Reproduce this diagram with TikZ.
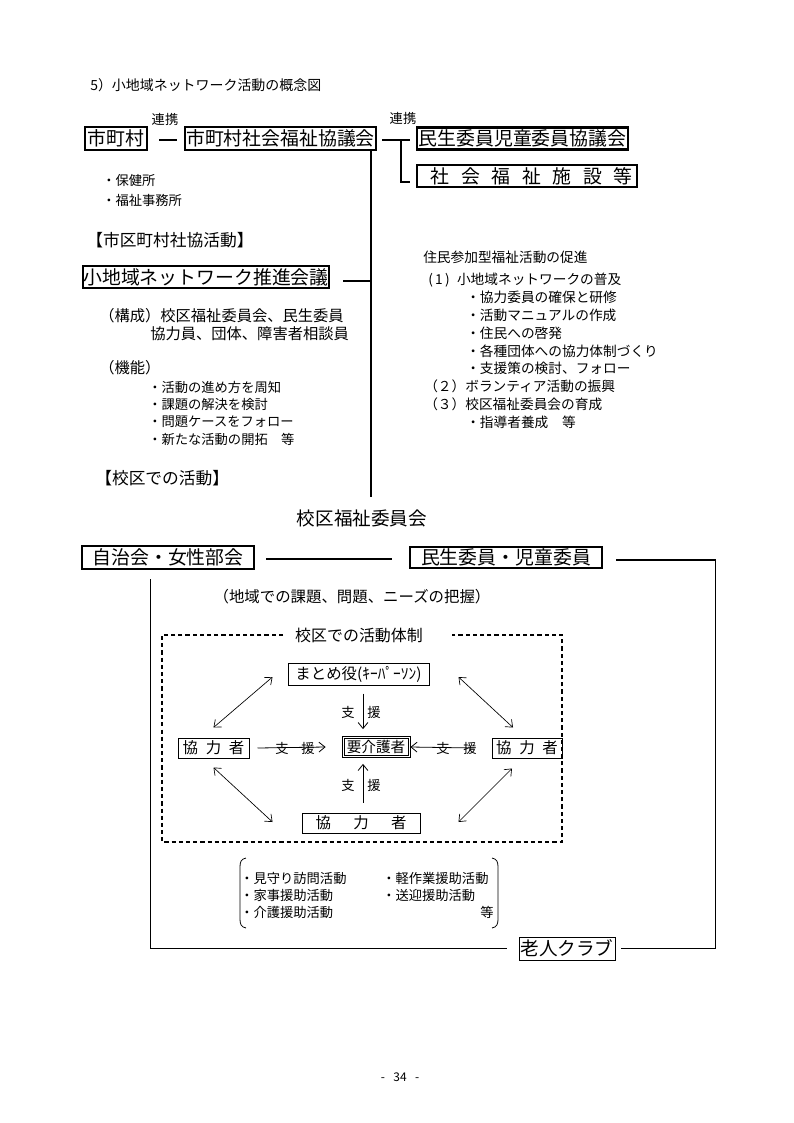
\documentclass[tikz,border=0pt]{standalone}
\usepackage{fontspec}
\setmainfont{Noto Sans CJK JP}
\usetikzlibrary{calc,arrows.meta}
\def\PX{0.2645mm}
\begin{document}
\begin{tikzpicture}[x=0.2645mm,y=-0.2645mm,
  bigbox/.style={draw, line width=1.6pt, inner sep=0pt, font=\fontsize{14.2}{16}\selectfont},
  thinbox/.style={draw, line width=0.75pt, inner sep=0pt, font=\fontsize{11.6}{14}\selectfont},
  sm/.style={inner sep=0pt, anchor=west, font=\fontsize{10}{12}\selectfont},
  smr/.style={inner sep=0pt, anchor=west, font=\fontsize{10.3}{12}\selectfont},
  mid/.style={inner sep=0pt, anchor=west, font=\fontsize{11.5}{13}\selectfont},
  head/.style={inner sep=0pt, anchor=west, font=\fontsize{12.6}{14}\selectfont},
  lbl/.style={inner sep=0pt, font=\fontsize{10}{11}\selectfont},
  conn/.style={line width=0.8pt},
  arr/.style={line width=0.6pt, -{Straight Barb[length=1.6mm,width=2.6mm]}},
  darr/.style={line width=0.5pt, {Straight Barb[length=1.6mm,width=2.6mm]}-{Straight Barb[length=1.6mm,width=2.6mm]}},
  dashbox/.style={line width=1.5pt, dash pattern=on 1.1mm off 0.8mm}
]
\fill[white] (0,0) rectangle (794,1123);
\useasboundingbox (0,0) rectangle (794,1123);

% title
\node[sm, font=\fontsize{10.5}{12}\selectfont] (title) at (90,85) {5）小地域ネットワーク活動の概念図};

% top boxes
\node[lbl] (renkei1) at (165,119) {連携};
\node[lbl] (renkei2) at (403,118) {連携};
\node[bigbox, minimum width=62*\PX, minimum height=23*\PX] (shi) at (116,138.5) {市町村};
\node[bigbox, minimum width=191*\PX, minimum height=23*\PX] (shakyo) at (280.5,138.5) {市町村社会福祉協議会};
\node[bigbox, minimum width=211*\PX, minimum height=22*\PX] (minji) at (522.5,138.5) {民生委員児童委員協議会};
\node[bigbox, minimum width=220*\PX, minimum height=22*\PX] (shisetsu) at (527,176)
  {\hspace{0.5em}社\hspace{0.62em}会\hspace{0.62em}福\hspace{0.62em}祉\hspace{0.62em}施\hspace{0.62em}設\hspace{0.62em}等};

\draw[conn] ($(shi.east)+(11,1.5)$) -- ($(shakyo.west)+(-7,1.5)$);
\draw[conn] ($(shakyo.east)+(5,1.5)$) -- ($(minji.west)+(-6,1.5)$);
\coordinate (rj) at (401,140);
\draw[conn] (rj) |- ($(shisetsu.west)+(-6,6)$);

% main vertical
\coordinate (vb) at (371,497);
\draw[conn] (shakyo.south -| vb) -- (vb);

\node[sm] (hoken) at (102,180) {・保健所};
\node[sm] (fukushi) at (102,200) {・福祉事務所};
\node[head] (shikucho) at (86,240) {【市区町村社協活動】};

\node[bigbox, minimum width=246*\PX, minimum height=22*\PX] (suishin) at (206,277) {小地域ネットワーク推進会議};
\coordinate (sj) at (371,281);
\draw[conn] ($(suishin.east)+(13,4)$) -- (sj);

\node[mid] (kousei1) at (99,316) {（構成）校区福祉委員会、民生委員};
\node[mid] (kousei2) at (150,334) {協力員、団体、障害者相談員};
\node[mid] (kinou) at (99,368) {（機能）};
\node[sm] (k1) at (148,387) {・活動の進め方を周知};
\node[sm] (k2) at (148,404) {・課題の解決を検討};
\node[sm] (k3) at (148,422) {・問題ケースをフォロー};
\node[sm] (k4) at (148,439) {・新たな活動の開拓\hspace{1em}等};

% right block
\node[smr] (r0) at (423,257) {住民参加型福祉活動の促進};
\node[smr] (r1) at (428,280) {\makebox[2.1em][l]{(\,1\,)}小地域ネットワークの普及};
\node[smr] (r2) at (466,297) {・協力委員の確保と研修};
\node[smr] (r3) at (466,315) {・活動マニュアルの作成};
\node[smr] (r4) at (466,333) {・住民への啓発};
\node[smr] (r5) at (466,351) {・各種団体への協力体制づくり};
\node[smr] (r6) at (466,368) {・支援策の検討、フォロー};
\node[smr] (r7) at (424,386) {（２）ボランティア活動の振興};
\node[smr] (r8) at (424,404) {（３）校区福祉委員会の育成};
\node[smr] (r9) at (466,422) {・指導者養成\hspace{1em}等};

\node[head] (kouku) at (95,478) {【校区での活動】};
\node[inner sep=0pt, font=\fontsize{14}{16}\selectfont] (kfi) at (362,518) {校区福祉委員会};

% second row
\node[bigbox, minimum width=172*\PX, minimum height=23*\PX] (jichi) at (168,557.5) {自治会・女性部会};
\node[bigbox, minimum width=192*\PX, minimum height=21*\PX] (minsei) at (506,557.5) {民生委員・児童委員};
\node[thinbox, font=\fontsize{14}{16}\selectfont, minimum width=96*\PX, minimum height=23*\PX] (rouj) at (567,948.5) {老人クラブ};

\draw[conn] ($(jichi.east)+(11,1.5)$) -- ($(minsei.west)+(-17,1.5)$);
\draw[conn] ($(minsei.east)+(13,2.5)$) -| ($(rouj.east)+(100,0)$) -- ($(rouj.east)+(5,0)$);
\draw[conn] ($(jichi.south west)+(70,9)$) |- ($(rouj.west)+(-12,0)$);

\node[inner sep=0pt, font=\fontsize{11.6}{14}\selectfont] (chiiki) at (352,597) {（地域での課題、問題、ニーズの把握）};

% dashed frame
\draw[dashbox] (283,635) -| (162,842) -| (562,635) -- (452,635);
\node[inner sep=0pt, font=\fontsize{12}{14}\selectfont] (taisei) at (359,635) {校区での活動体制};

\node[thinbox, minimum width=141*\PX, minimum height=22*\PX] (matome) at (358.5,674) {まとめ役(ｷｰﾊﾟｰｿﾝ)};
\node[thinbox, font=\fontsize{11}{13}\selectfont, line width=0.6pt, minimum width=68*\PX, minimum height=21*\PX] (youkai) at (376,747) {要介護者};
\draw[line width=0.6pt] ($(youkai.south west)+(2.5,-2.5)$) rectangle ($(youkai.north east)+(-2.5,2.5)$);
\node[thinbox, minimum width=71*\PX, minimum height=20*\PX] (kyouL) at (213.5,748) {協\hspace{0.5em}力\hspace{0.5em}者};
\node[thinbox, minimum width=70*\PX, minimum height=20*\PX] (kyouR) at (527,748) {協\hspace{0.5em}力\hspace{0.5em}者};
\node[thinbox, minimum width=118*\PX, minimum height=20*\PX] (kyouB) at (361,823) {協\hspace{1.45em}力\hspace{1.45em}者};

\draw[arr] ($(matome.south)+(4.5,8)$) -- ($(youkai.north)+(-13,-7)$);
\node[lbl] (s1) at (348,712) {支};
\node[lbl] (e1) at (374,712) {援};
\draw[arr] ($(kyouB.north)+(2,-10)$) -- ($(youkai.south)+(-13,6)$);
\node[lbl] (s2) at (348,785) {支};
\node[lbl] (e2) at (374,785) {援};
\draw[arr] ($(kyouL.east)+(8,0)$) -- ($(youkai.west)+(-16,0)$);
\node[lbl] (s3) at (282,748) {支};
\node[lbl] (e3) at (308,748) {援};
\draw[arr] ($(kyouR.west)+(-17,0)$) -- ($(youkai.east)+(0,0)$);
\node[lbl] (s4) at (443,748) {支};
\node[lbl] (e4) at (470,748) {援};

\draw[darr] ($(kyouL.north)+(0,-10)$) -- ($(matome.west)+(-15,3)$);
\draw[darr] ($(matome.east)+(29,3)$) -- ($(kyouR.north)+(-14,-10)$);
\draw[darr] ($(kyouL.south)+(0,9)$) -- ($(kyouB.west)+(-29,-1)$);
\draw[darr] ($(kyouR.south)+(-15,10)$) -- ($(kyouB.east)+(38,-1)$);

% bracket list
\draw[line width=0.6pt] (246,858) .. controls (241,859) and (240,862) .. (240,867) -- (240,919) .. controls (240,924) and (241,927) .. (246,928);
\draw[line width=0.6pt] (492,858) .. controls (497,859) and (498,862) .. (498,867) -- (498,919) .. controls (498,924) and (497,927) .. (492,928);
\node[sm] (b1) at (240,878) {・見守り訪問活動};
\node[sm] (b2) at (240,895) {・家事援助活動};
\node[sm] (b3) at (240,912) {・介護援助活動};
\node[sm] (b4) at (382,878) {・軽作業援助活動};
\node[sm] (b5) at (382,895) {・送迎援助活動};
\node[inner sep=0pt, font=\fontsize{10}{12}\selectfont] (b6) at (487,912) {等};

% page number
\node[inner sep=0pt, font=\fontsize{9}{10}\selectfont] (page) at (400,1077) {-\hspace{0.7em}34\hspace{0.7em}-};
\end{tikzpicture}
\end{document}
